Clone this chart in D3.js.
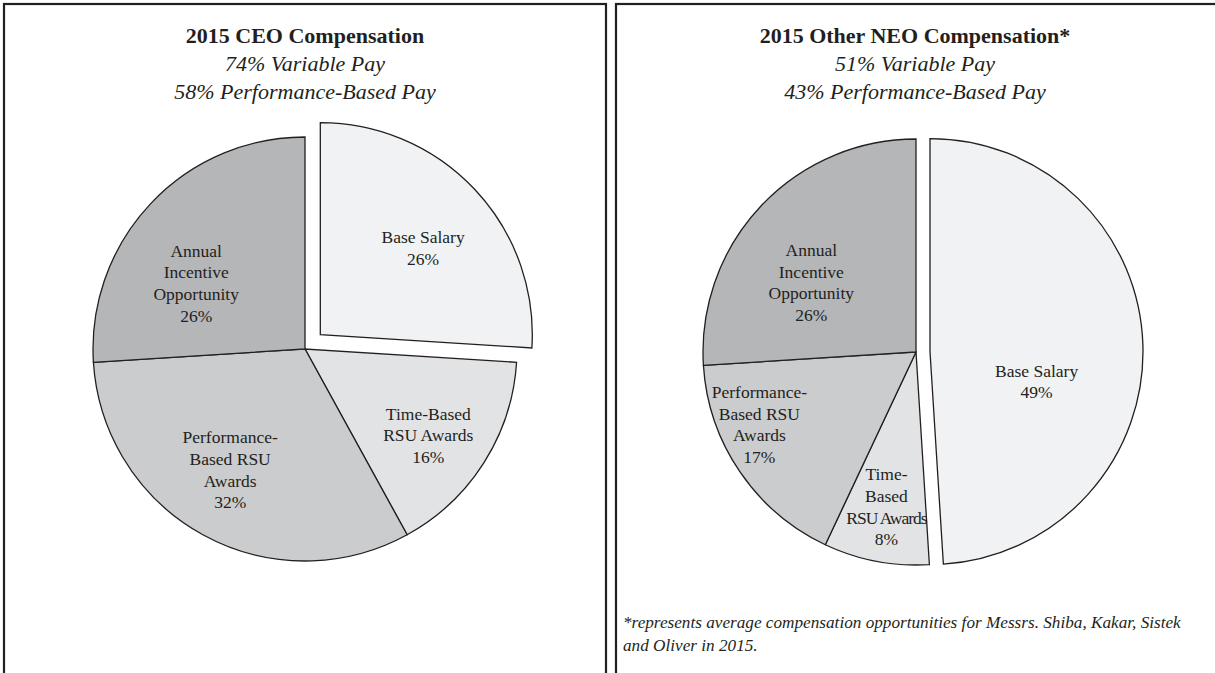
<!DOCTYPE html>
<html>
<head>
<meta charset="utf-8">
<script src="https://cdn.jsdelivr.net/npm/d3@7"></script>
<style>
  body { margin: 0; background: white; }
  svg { display: block; }
</style>
</head>
<body>
<svg id="chart" width="1215" height="673"></svg>
<script>
// data
let categories = ["Base Salary", "Time-Based RSU Awards", "Performance-Based RSU Awards", "Annual Incentive Opportunity"]
let ceoValues = [26, 16, 32, 26]
let neoValues = [49, 8, 17, 26]
let ceoTitles = ["2015 CEO Compensation", "74% Variable Pay", "58% Performance-Based Pay"]
let neoTitles = ["2015 Other NEO Compensation*", "51% Variable Pay", "43% Performance-Based Pay"]
let ceoLabelLines = [["Base Salary"], ["Time-Based", "RSU Awards"], ["Performance-", "Based RSU", "Awards"], ["Annual", "Incentive", "Opportunity"]]
let neoLabelLines = [["Base Salary"], ["Time-", "Based", "RSU Awards"], ["Performance-", "Based RSU", "Awards"], ["Annual", "Incentive", "Opportunity"]]
let footnote = ["*represents average compensation opportunities for Messrs. Shiba, Kakar, Sistek", "and Oliver in 2015."]

let sliceColors = ["#f1f2f3", "#e2e3e5", "#cbcccd", "#b5b6b8"]
let ink = "#231f20"
let serif = "'Liberation Serif', 'Times New Roman', serif"

let svg = d3.select("#chart")

let color = d3.scaleOrdinal().domain(categories).range(sliceColors)

// panel frames (bottom / right edges run off the page)
svg.append("rect").attr("x", 4).attr("y", 4).attr("width", 602).attr("height", 720)
    .attr("fill", "none").attr("stroke", ink).attr("stroke-width", 2.2)
svg.append("rect").attr("x", 616).attr("y", 4).attr("width", 640).attr("height", 720)
    .attr("fill", "none").attr("stroke", ink).attr("stroke-width", 2.2)

let drawPanel = function(opts){
    let g = svg.append("g")

    // title block
    opts.titles.forEach(function(t, i){
        g.append("text")
            .attr("x", opts.titleX)
            .attr("y", 43 + i * 28)
            .attr("text-anchor", "middle")
            .attr("font-family", serif)
            .attr("font-size", "22px")
            .attr("font-weight", i === 0 ? "bold" : "normal")
            .attr("font-style", i === 0 ? "normal" : "italic")
            .attr("fill", ink)
            .text(t)
    })

    let data = categories.map((c, i) => ({name: c, value: opts.values[i], lines: opts.lines[i], idx: i}))
    let pie = d3.pie().sort(null).value(d => d.value)
    let arcs = pie(data)
    let arc = d3.arc().innerRadius(0).outerRadius(opts.r)

    let pieG = g.append("g").attr("transform", "translate(" + opts.cx + "," + opts.cy + ")")

    arcs.forEach(function(a){
        let mid = (a.startAngle + a.endAngle) / 2
        let off = a.data.idx === 0 ? opts.explode : 0
        let ox = Math.sin(mid) * off
        let oy = -Math.cos(mid) * off

        let sg = pieG.append("g").attr("transform", "translate(" + ox + "," + oy + ")")
        sg.append("path")
            .attr("d", arc(a))
            .attr("fill", color(a.data.name))
            .attr("stroke", ink)
            .attr("stroke-width", 1.3)
            .attr("stroke-linejoin", "miter")

        // label
        let lp = opts.labelPos[a.data.idx]
        let ang = mid + lp[1] * Math.PI / 180
        let lx = Math.sin(ang) * opts.r * lp[0]
        let ly = -Math.cos(ang) * opts.r * lp[0]
        let lines = a.data.lines.concat([a.data.value + "%"])
        let lh = 21.7
        let txt = sg.append("text")
            .attr("text-anchor", "middle")
            .attr("font-family", serif)
            .attr("font-size", "17.5px")
            .attr("fill", ink)
        lines.forEach(function(l, i){
            txt.append("tspan")
                .attr("x", lx)
                .attr("y", ly - (lines.length - 1) / 2 * lh + i * lh + 6)
                .attr("letter-spacing", opts.tight && l === "RSU Awards" ? "-1px" : null)
                .text(l)
        })
    })

    if(opts.note){
        opts.note.forEach(function(t, i){
            g.append("text")
                .attr("x", 623)
                .attr("y", 628 + i * 23)
                .attr("font-family", serif)
                .attr("font-size", "17.2px")
                .attr("font-style", "italic")
                .attr("fill", ink)
                .text(t)
        })
    }
}

drawPanel({
    titles: ceoTitles, titleX: 305,
    values: ceoValues, lines: ceoLabelLines,
    cx: 305, cy: 349, r: 212, explode: 21,
    labelPos: [[0.635, 3], [0.71, 2.6], [0.67, 3], [0.60, -12]]
})

drawPanel({
    titles: neoTitles, titleX: 915,
    values: neoValues, lines: neoLabelLines,
    cx: 916, cy: 352, r: 213, explode: 14, tight: true,
    labelPos: [[0.52, 17.5], [0.74, 0], [0.81, 9.4], [0.59, -9.6]],
    note: footnote
})
</script>
</body>
</html>
